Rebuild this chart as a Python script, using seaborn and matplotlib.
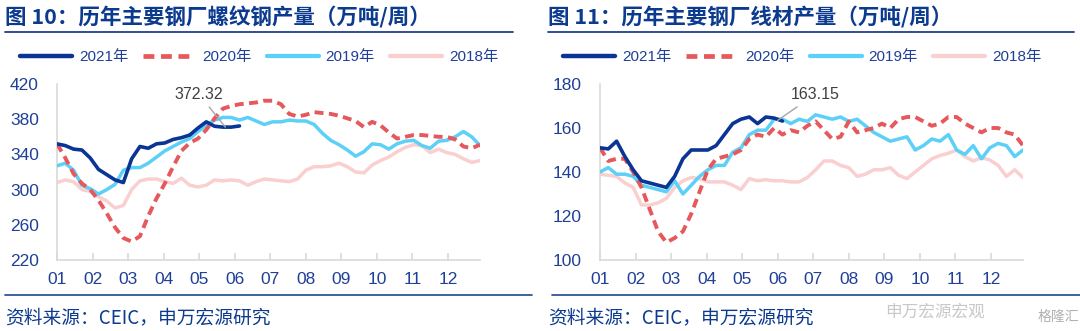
import matplotlib
matplotlib.use("Agg")
import matplotlib.pyplot as plt
from matplotlib.lines import Line2D
import seaborn as sns
import pandas as pd
import numpy as np

sns.set_theme(style="white")
plt.rcParams['font.family'] = ['Liberation Sans', 'Noto Sans CJK SC', 'DejaVu Sans']

# ---------------- data ----------------
months = ['01', '02', '03', '04', '05', '06', '07', '08', '09', '10', '11', '12']
years = ['2021年', '2020年', '2019年', '2018年']

# rebar (螺纹钢) weekly output, 万吨/周
rebar_2021 = [352, 350, 346, 345, 336, 323, 317, 311, 308, 335, 349, 347, 352, 353, 357,
              359, 362, 370, 377, 372, 371, 371, 372.32]
rebar_2020 = [352, 336, 318, 307, 300, 288, 273, 257, 245, 241, 247, 270, 290, 307, 326,
              344, 353, 358, 368, 381, 392, 395, 397, 398, 399, 401, 401, 397, 386, 383,
              385, 388, 387, 386, 384, 381, 378, 371, 377, 373, 365, 358, 360, 362, 362,
              361, 360, 360, 357, 349, 347, 351]
rebar_2019 = [327, 330, 322, 305, 301, 295, 300, 306, 322, 325, 325, 330, 337, 344, 349,
              354, 358, 366, 373, 379, 382, 382, 379, 382, 378, 374, 377, 377, 379, 378,
              378, 374, 364, 356, 351, 345, 338, 343, 352, 351, 346, 352, 355, 356, 350,
              347, 355, 356, 360, 366, 360, 350]
rebar_2018 = [308, 311, 309, 300, 298, 292, 287, 279, 282, 300, 310, 312, 312, 309, 307,
              313, 305, 303, 305, 311, 310, 311, 310, 305, 309, 312, 311, 310, 309, 312,
              322, 326, 326, 327, 330, 326, 320, 319, 328, 333, 337, 343, 348, 351, 350,
              342, 346, 342, 340, 335, 331, 333]

# wire rod (线材) weekly output, 万吨/周
wire_2021 = [151, 150.5, 154, 147, 141, 136, 135, 134, 133, 138, 146, 150, 150, 150, 152,
             157, 162, 164, 165, 162, 165, 164.5, 163.15]
wire_2020 = [151, 145, 146, 146, 140, 133, 123, 113, 108, 110, 113, 121, 131, 141, 146,
             147, 148, 150, 155, 157, 156, 160, 157, 159, 158, 161, 163, 159, 155, 156,
             163, 158, 159, 160, 162, 160, 164, 165, 165, 163, 161, 162, 165, 165, 162,
             160, 158, 160, 160, 158, 157, 152]
wire_2019 = [140, 142, 139, 139, 138, 134, 133, 132, 131, 136, 130, 134, 138, 141, 143,
             143, 149, 151, 157, 159, 159, 164, 164, 162, 164, 163, 166, 165, 164, 165,
             163, 164, 161, 158, 156, 154, 155, 156, 150, 152, 155, 154, 157, 150, 148,
             152, 146, 151, 153, 152, 147, 150]
wire_2018 = [139, 138.5, 138, 135, 133, 125, 125, 126, 128, 133, 136, 137.5, 137, 135.5, 135.5,
             135.5, 134, 132, 137, 136, 136.5, 136, 136, 135.5, 135.5, 137.5, 141, 145, 145, 143,
             142, 138, 139, 141, 141, 142, 138.5, 137, 140, 143, 146, 147.5, 148.5, 150, 147,
             145, 146.5, 145.5, 143, 138, 141, 137.5]

panels = [
    dict(title='图 10：历年主要钢厂螺纹钢产量（万吨/周）',
         series=[rebar_2021, rebar_2020, rebar_2019, rebar_2018],
         ylim=(220, 420), yticks=[220, 260, 300, 340, 380, 420],
         label='372.32', xy=(20.3, 371), xytext=(17.1, 408.5)),
    dict(title='图 11：历年主要钢厂线材产量（万吨/周）',
         series=[wire_2021, wire_2020, wire_2019, wire_2018],
         ylim=(100, 180), yticks=[100, 120, 140, 160, 180],
         label='163.15', xy=(21.4, 163.4), xytext=(25.9, 175.2)),
]

# ---------------- style ----------------
colors = {'2021年': '#0B3594', '2020年': '#E6585C', '2019年': '#5DD0F7', '2018年': '#F9CFCF'}
widths = {'2021年': 2.6, '2020年': 2.8, '2019年': 2.5, '2018年': 2.5}
zorders = {'2021年': 5, '2020年': 4, '2019年': 3, '2018年': 2}
dash20 = (0, (2.3, 1.4))
blue_txt = '#1F3F98'
title_col = '#0B3A8F'
grey_ax = '#D9D9D9'

W, H = 1080, 331
fig = plt.figure(figsize=(W / 100, H / 100), dpi=100)

ax_left_px = [57, 600]
ax_w_px = 423
ax_top_px, ax_bot_px = 84, 260
title_x_px = [5, 548]
line_spans = [(5, 513), (548, 1074)]
bottom_spans = [(5, 532), (552, 1080)]

for i, p in enumerate(panels):
    ax = fig.add_axes([ax_left_px[i] / W, 1 - ax_bot_px / H, ax_w_px / W,
                       (ax_bot_px - ax_top_px) / H])
    for yr, vals in zip(years, p['series']):
        df = pd.DataFrame({'week': np.arange(len(vals)), 'value': vals})
        sns.lineplot(data=df, x='week', y='value', ax=ax, color=colors[yr],
                     lw=widths[yr], zorder=zorders[yr], legend=False)
        ln = ax.lines[-1]
        if yr == '2020年':
            ln.set_linestyle(dash20)
        ln.set_solid_capstyle('round')
        ln.set_solid_joinstyle('round')

    ax.set_xlim(0, 51)
    ax.set_ylim(*p['ylim'])
    ax.set_yticks(p['yticks'])
    ax.set_xticks([m * 51 / 11.9 for m in range(12)])
    ax.set_xticklabels(months)
    ax.set_xlabel('')
    ax.set_ylabel('')
    for s in ['top', 'right']:
        ax.spines[s].set_visible(False)
    for s in ['left', 'bottom']:
        ax.spines[s].set_color(grey_ax)
        ax.spines[s].set_linewidth(1.2)
    ax.tick_params(axis='x', direction='in', length=5, width=1.2, color=grey_ax,
                   labelsize=12.5, labelcolor=blue_txt, pad=9, bottom=True)
    ax.tick_params(axis='y', length=0, labelsize=12.5, labelcolor=blue_txt, pad=13, left=True)
    ax.grid(False)
    ax.set_facecolor('white')

    ax.annotate(p['label'], xy=p['xy'], xytext=p['xytext'], ha='center', va='center',
                fontsize=11.5, color='#404040', zorder=10,
                arrowprops=dict(arrowstyle='-', color='#A6A6A6', lw=1, shrinkA=2, shrinkB=0))

    # title and rules
    fig.text(title_x_px[i] / W, 1 - 17 / H, p['title'], fontsize=15.5, fontweight='bold',
             color=title_col, ha='left', va='center',
             family=['Noto Sans CJK SC', 'DejaVu Sans'])
    fig.add_artist(Line2D([line_spans[i][0] / W, line_spans[i][1] / W],
                          [1 - 32 / H, 1 - 32 / H], color='#1F3F8F', lw=1.3))
    fig.add_artist(Line2D([bottom_spans[i][0] / W, bottom_spans[i][1] / W],
                          [1 - 295 / H, 1 - 295 / H], color='#2F5597', lw=1.3))
    fig.text(title_x_px[i] / W, 1 - 318 / H, '资料来源：CEIC，申万宏源研究', fontsize=13.5,
             color=title_col, ha='left', va='center',
             family=['Noto Sans CJK SC', 'DejaVu Sans'])

    # legend
    handles = []
    for yr in years:
        h = Line2D([], [], color=colors[yr], lw=widths[yr] + 0.6,
                   linestyle=dash20 if yr == '2020年' else '-')
        handles.append(h)
    leg = ax.legend(handles, years, ncol=4, frameon=False, loc='center left',
                    bbox_to_anchor=((ax_left_px[i] - 37) / W, 1 - 57 / H),
                    bbox_transform=fig.transFigure, handlelength=3.4,
                    handletextpad=0.45, columnspacing=1.0, borderpad=0, borderaxespad=0,
                    prop={'family': ['Liberation Sans', 'Noto Sans CJK SC'], 'size': 11})
    for t in leg.get_texts():
        t.set_color(blue_txt)

# watermark texts
fig.text(935 / W, 1 - 312 / H, '申万宏源宏观', fontsize=12, color='#C8C8C8',
         ha='center', va='center', family=['Noto Sans CJK SC'], zorder=20)
fig.text(1058 / W, 1 - 317 / H, '格隆汇', fontsize=10, color='#B0B0B0',
         ha='center', va='center', family=['Noto Sans CJK SC'], zorder=20)

fig.savefig('out.png', dpi=100, facecolor='white')
